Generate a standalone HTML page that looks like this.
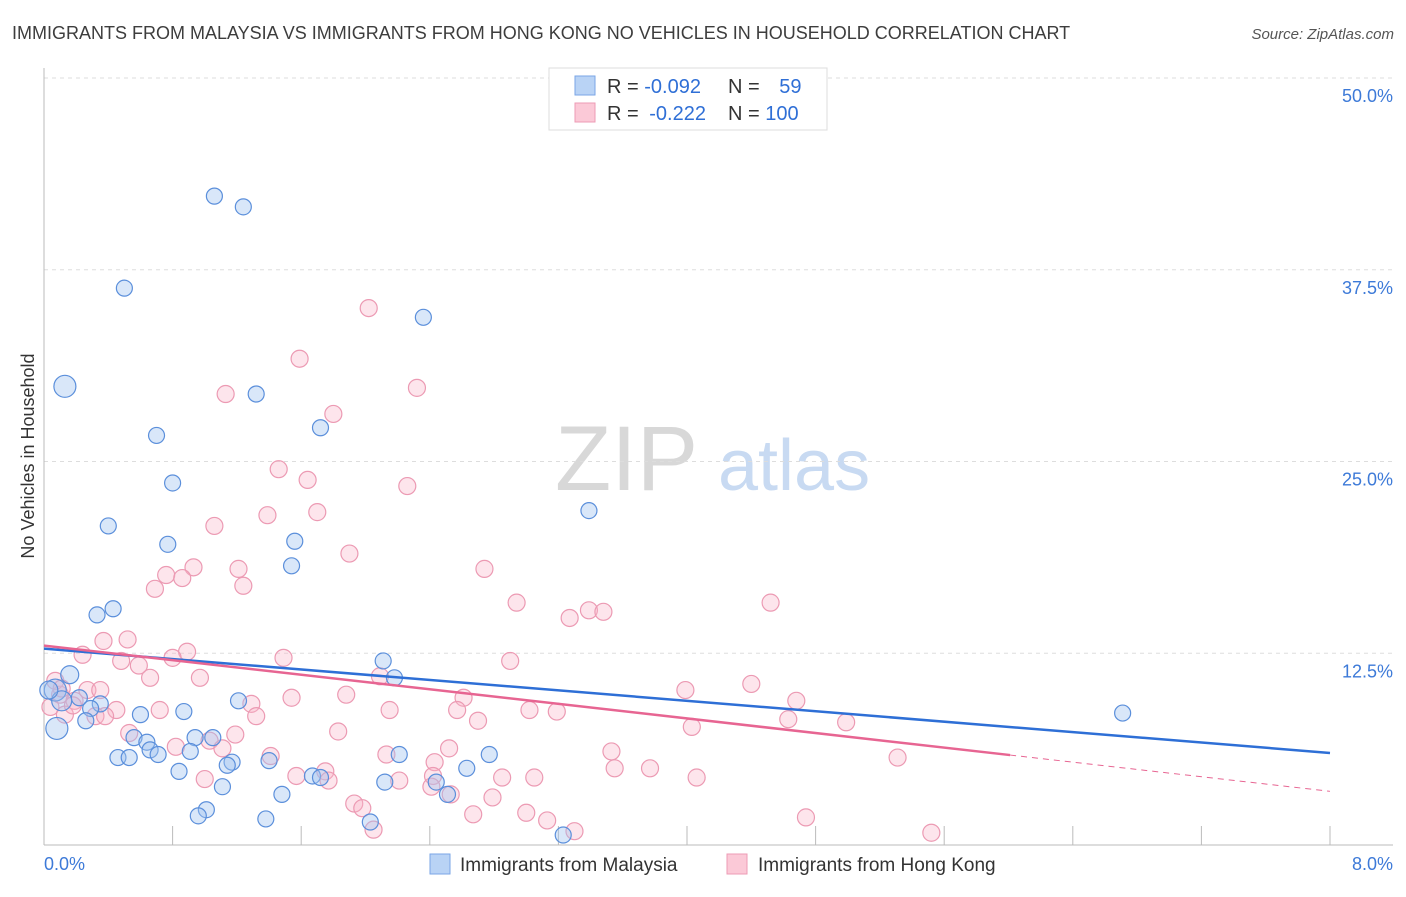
<!DOCTYPE html>
<html><head><meta charset="utf-8"><style>
body{margin:0;background:#fff;font-family:"Liberation Sans",sans-serif;}
svg text{font-family:"Liberation Sans",sans-serif;}
</style></head><body>
<svg id="chart" width="1406" height="892" xmlns="http://www.w3.org/2000/svg">
<text x="12" y="39" font-size="18" fill="#3d3d3d">IMMIGRANTS FROM MALAYSIA VS IMMIGRANTS FROM HONG KONG NO VEHICLES IN HOUSEHOLD CORRELATION CHART</text>
<text x="1394" y="39" font-size="15" fill="#555" text-anchor="end" font-style="italic">Source: ZipAtlas.com</text>
<g>
<text x="555" y="490" font-size="92" font-family="Liberation Serif" fill="#d8d8d8">ZIP</text>
<text x="718" y="490" font-size="72" fill="#c8daf2">atlas</text>
</g>
<g id="grid"></g><g id="axes"></g><g id="pts"></g><g id="trends"></g>
<text transform="translate(34,456) rotate(-90)" font-size="18" fill="#333" text-anchor="middle">No Vehicles in Household</text>
<g>
<rect x="549" y="68" width="278" height="62" fill="#fff" stroke="#ddd"/>
<rect x="575" y="76" width="20" height="19" fill="#b9d3f5" stroke="#7aa6e6"/>
<rect x="575" y="103" width="20" height="19" fill="#fbc9d7" stroke="#ee9bb4"/>
<text x="607" y="93" font-size="20" fill="#333">R = <tspan fill="#2f6fd6">-0.092</tspan></text>
<text x="728" y="93" font-size="20" fill="#333">N = <tspan fill="#2f6fd6" dx="14">59</tspan></text>
<text x="607" y="120" font-size="20" fill="#333">R = <tspan fill="#2f6fd6" dx="5">-0.222</tspan></text>
<text x="728" y="120" font-size="20" fill="#333">N = <tspan fill="#2f6fd6">100</tspan></text>
</g>
<g>
<rect x="430" y="854" width="20" height="20" fill="#b9d3f5" stroke="#7aa6e6"/>
<text x="460" y="871" font-size="19" fill="#333">Immigrants from Malaysia</text>
<rect x="727" y="854" width="20" height="20" fill="#fbc9d7" stroke="#ee9bb4"/>
<text x="758" y="871" font-size="19" fill="#333">Immigrants from Hong Kong</text>
</g>
</svg>
<script>
const yTicks=[12.5,25,37.5,50];
const yTickLabels=["12.5%","25.0%","37.5%","50.0%"];
const xTickLabels=["0.0%","8.0%"];
const blueX=[1.06,1.24,0.50,0.13,2.36,1.32,0.70,1.72,0.80,0.40,3.39,0.77,1.56,1.54,0.33,0.43,0.16,2.11,2.18,0.07,0.22,0.35,0.08,0.29,0.26,0.60,0.87,1.21,1.05,0.94,0.56,0.64,0.66,0.71,0.46,0.53,0.91,1.17,1.14,1.40,0.84,1.11,1.67,1.72,2.12,2.21,2.44,2.51,2.63,2.77,1.48,1.01,0.96,1.38,2.03,3.23,6.71,0.11,0.03];
const blueY=[42.3,41.6,36.3,29.9,34.4,29.4,26.7,27.2,23.6,20.8,21.8,19.6,19.8,18.2,15.0,15.4,11.1,12.0,10.9,10.1,9.6,9.2,7.6,8.9,8.1,8.5,8.7,9.4,7.0,7.0,7.0,6.7,6.2,5.9,5.7,5.7,6.1,5.4,5.2,5.5,4.8,3.8,4.5,4.4,4.1,5.9,4.1,3.3,5.0,5.9,3.3,2.3,1.9,1.7,1.5,0.65,8.6,9.4,10.1];
const blueR=[8,8,8,11,8,8,8,8,8,8,8,8,8,8,8,8,9,8,8,11,8,8,11,8,8,8,8,8,8,8,8,8,8,8,8,8,8,8,8,8,8,8,8,8,8,8,8,8,8,8,8,8,8,8,8,8,8,10,9];
const pinkX=[2.02,1.59,1.13,2.32,1.80,1.46,1.64,2.26,1.06,1.39,1.70,1.90,0.93,0.76,0.86,1.21,2.74,0.69,1.24,2.94,4.52,3.27,3.39,3.48,0.37,0.52,0.24,0.89,0.48,0.59,0.80,1.49,2.90,0.66,0.97,2.09,0.27,0.10,0.19,0.35,1.54,1.88,2.61,3.99,4.40,4.68,0.04,0.13,0.32,0.45,0.72,1.29,1.32,2.15,2.57,2.70,3.02,3.19,4.03,4.63,4.99,1.83,0.53,0.82,1.03,1.11,1.41,2.13,2.43,2.52,3.53,3.55,3.77,4.06,5.31,1.00,1.57,1.75,1.77,2.21,2.42,2.85,3.05,2.41,2.53,2.79,1.93,1.98,2.67,3.00,3.13,3.30,4.74,2.05,5.52,0.07,0.11,0.18,0.38,1.19];
const pinkY=[35.0,31.7,29.4,29.8,28.1,24.5,23.8,23.4,20.8,21.5,21.7,19.0,18.1,17.6,17.4,18.0,18.0,16.7,16.9,15.8,15.8,14.8,15.3,15.2,13.3,13.4,12.4,12.6,12.0,11.7,12.2,12.2,12.0,10.9,10.9,11.0,10.1,9.8,9.4,10.1,9.6,9.8,9.6,10.1,10.5,9.4,9.0,8.5,8.4,8.8,8.8,9.2,8.4,8.8,8.8,8.1,8.8,8.7,7.7,8.2,8.0,7.4,7.3,6.4,6.8,6.3,5.8,5.9,5.4,6.3,6.1,5.0,5.0,4.4,5.7,4.3,4.5,4.8,4.2,4.2,4.5,4.4,4.4,3.8,3.3,3.1,2.7,2.4,2.0,2.1,1.6,0.9,1.8,1.0,0.8,10.7,10.2,9.1,8.4,7.2];
const blueTrend=[12.8,6.0];
const pinkTrend=[13.0,3.5];
const pinkSolidEnd=6.01;
const X0=44,X1=1330,Y0=845,YT=78;
const sx=v=>X0+(v/8)*(X1-X0);
const sy=v=>Y0-(v/50)*(Y0-YT);
const NS="http://www.w3.org/2000/svg";
function mk(tag,attrs,parent){const e=document.createElementNS(NS,tag);for(const k in attrs)e.setAttribute(k,attrs[k]);document.getElementById(parent).appendChild(e);return e;}
yTicks.forEach((t,i)=>{
 const g=mk('line',{x1:X0,x2:1393,y1:sy(t),y2:sy(t),stroke:'#ddd','stroke-dasharray':'4,4'},'grid');
 
 
 const l=mk('text',{x:1393,y:sy(t)+24,'font-size':18,fill:'#3d7ad8','text-anchor':'end'},'axes');
 l.textContent=yTickLabels[i];
 
 
});
let a=mk('line',{x1:X0,x2:X0,y1:68,y2:Y0,stroke:'#bbb'},'axes');


a=mk('line',{x1:X0,x2:1393,y1:Y0,y2:Y0,stroke:'#bbb'},'axes');


for(let i=1;i<=10;i++){const t=mk('line',{x1:sx(i*0.8),x2:sx(i*0.8),y1:Y0-19,y2:Y0,stroke:'#bbb'},'axes');
 
 }
[[0,'start',X0],[8,'end',1393]].forEach((d,i)=>{const l=mk('text',{x:d[2],y:870,'font-size':18,fill:'#3d7ad8','text-anchor':d[1]},'axes');l.textContent=xTickLabels[i];
 
 });
pinkX.forEach((x,i)=>{const c=mk('circle',{cx:sx(x),cy:sy(pinkY[i]),r:8.5,fill:'rgba(248,180,200,0.35)',stroke:'#ec9ab3','stroke-width':1.2},'pts');
 
 });
blueX.forEach((x,i)=>{const c=mk('circle',{cx:sx(x),cy:sy(blueY[i]),r:blueR[i],fill:'rgba(160,195,240,0.4)',stroke:'#5b8fdb','stroke-width':1.2},'pts');
 
 });
const py=x=>pinkTrend[0]+(pinkTrend[1]-pinkTrend[0])*x/8;
let t=mk('line',{x1:sx(0),y1:sy(blueTrend[0]),x2:sx(8),y2:sy(blueTrend[1]),stroke:'#2e6fd6','stroke-width':2.5},'trends');


t=mk('line',{x1:sx(0),y1:sy(py(0)),x2:sx(pinkSolidEnd),y2:sy(py(pinkSolidEnd)),stroke:'#e76592','stroke-width':2.5},'trends');


t=mk('line',{x1:sx(pinkSolidEnd),y1:sy(py(pinkSolidEnd)),x2:sx(8),y2:sy(py(8)),stroke:'#e76592','stroke-width':1,'stroke-dasharray':'6,5'},'trends');


</script>
</body></html>
